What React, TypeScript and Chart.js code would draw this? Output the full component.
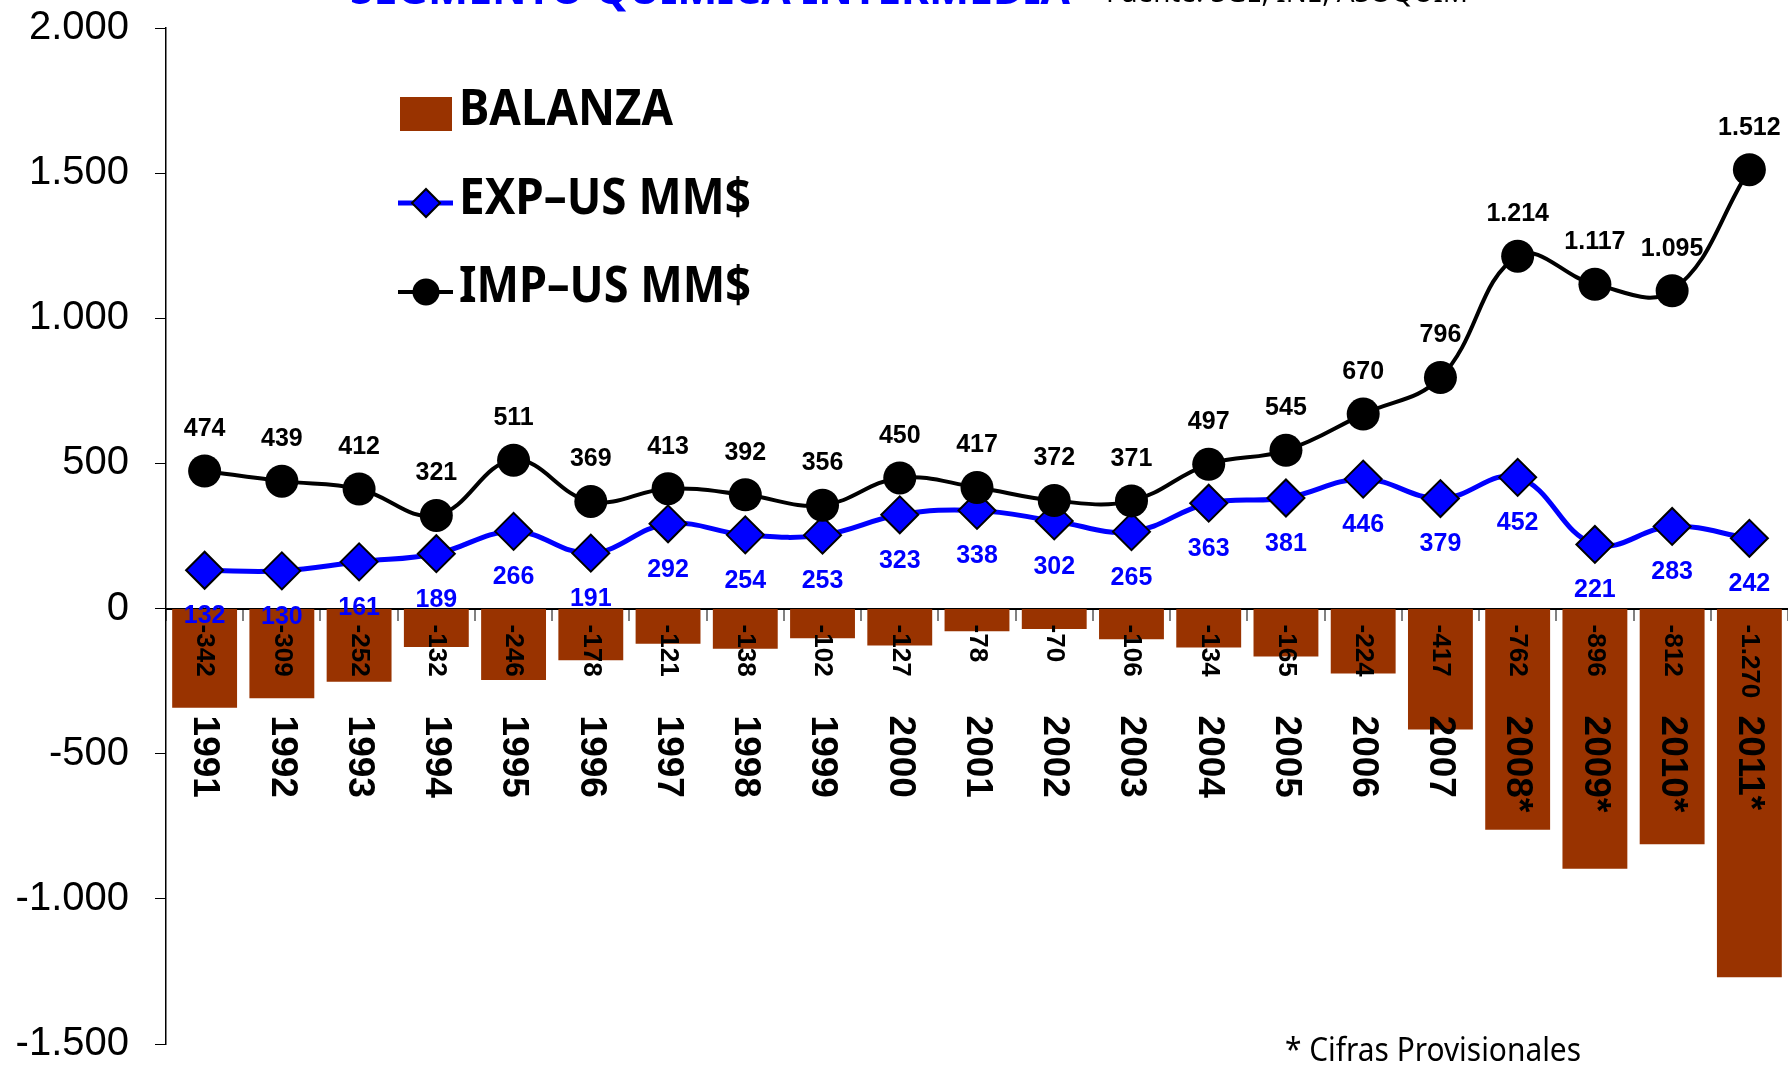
import React, { useEffect, useRef } from 'react';
import { Chart, registerables } from 'chart.js';

Chart.register(...registerables);

// ---------- DATA ----------
const years: string[] = [
  '1991', '1992', '1993', '1994', '1995', '1996', '1997', '1998', '1999', '2000',
  '2001', '2002', '2003', '2004', '2005', '2006', '2007', '2008*', '2009*', '2010*', '2011*',
];
const balanza: number[] = [
  -342, -309, -252, -132, -246, -178, -121, -138, -102, -127,
  -78, -70, -106, -134, -165, -224, -417, -762, -896, -812, -1270,
];
const expUS: number[] = [
  132, 130, 161, 189, 266, 191, 292, 254, 253, 323,
  338, 302, 265, 363, 381, 446, 379, 452, 221, 283, 242,
];
const impUS: number[] = [
  474, 439, 412, 321, 511, 369, 413, 392, 356, 450,
  417, 372, 371, 497, 545, 670, 796, 1214, 1117, 1095, 1512,
];
const seriesNames: string[] = ['BALANZA', 'EXP\u2013US MM$', 'IMP\u2013US MM$'];
const yMin = -1500;
const yMax = 2000;
const yStep = 500;
const titleText = 'SEGMENTO QUIMICA INTERMEDIA';
const sourceText = 'Fuente: SGE, INE, ASOQUIM';
const footnoteText = '* Cifras Provisionales';

// ---------- STYLE ----------
const BAR_COLOR = '#993300';
const EXP_COLOR = '#0000FF';
const IMP_COLOR = '#000000';
const ARIAL = '"Liberation Sans", Arial, Helvetica, sans-serif';
const SANS = '"Noto Sans", "Open Sans", sans-serif';

function fmt(v: number): string {
  const s = Math.abs(Math.round(v)).toString().replace(/\B(?=(\d{3})+(?!\d))/g, '.');
  return (v < 0 ? '-' : '') + s;
}

const labelsPlugin = {
  id: 'customLabels',
  afterDatasetsDraw(chart: any) {
    const ctx: CanvasRenderingContext2D = chart.ctx;
    const xs = chart.scales.x;
    const ys = chart.scales.y;
    const zero = ys.getPixelForValue(0);
    ctx.save();

    // Bar value labels (rotated, reading downward)
    ctx.font = `bold 26px ${ARIAL}`;
    ctx.fillStyle = '#000';
    ctx.textAlign = 'left';
    ctx.textBaseline = 'middle';
    const barMeta = chart.getDatasetMeta(0);
    barMeta.data.forEach((el: any, i: number) => {
      ctx.save();
      ctx.translate(el.x, zero + 16);
      ctx.rotate(Math.PI / 2);
      ctx.fillText(fmt(balanza[i]), 0, 0);
      ctx.restore();
    });

    // Year labels (rotated)
    ctx.font = `bold 37px ${ARIAL}`;
    years.forEach((yr, i) => {
      const px = xs.getPixelForValue(i);
      ctx.save();
      ctx.translate(px, zero + 107);
      ctx.rotate(Math.PI / 2);
      ctx.fillText(yr, 0, 0);
      ctx.restore();
    });

    // EXP labels (below)
    ctx.font = `bold 25px ${ARIAL}`;
    ctx.textAlign = 'center';
    ctx.textBaseline = 'middle';
    ctx.fillStyle = EXP_COLOR;
    const expMeta = chart.getDatasetMeta(1);
    expMeta.data.forEach((el: any, i: number) => {
      ctx.fillText(fmt(expUS[i]), el.x, el.y + 46);
    });

    // IMP labels (above)
    ctx.fillStyle = IMP_COLOR;
    const impMeta = chart.getDatasetMeta(2);
    impMeta.data.forEach((el: any, i: number) => {
      ctx.fillText(fmt(impUS[i]), el.x, el.y - 42);
    });

    ctx.restore();
  },
  afterDraw(chart: any) {
    const ctx: CanvasRenderingContext2D = chart.ctx;
    ctx.save();
    // Legend
    ctx.fillStyle = BAR_COLOR;
    ctx.fillRect(400, 97, 52, 34);

    ctx.lineWidth = 5;
    ctx.strokeStyle = EXP_COLOR;
    ctx.beginPath();
    ctx.moveTo(398, 203);
    ctx.lineTo(453, 203);
    ctx.stroke();
    ctx.beginPath();
    ctx.moveTo(426 - 14, 203);
    ctx.lineTo(426, 203 - 14);
    ctx.lineTo(426 + 14, 203);
    ctx.lineTo(426, 203 + 14);
    ctx.closePath();
    ctx.fillStyle = EXP_COLOR;
    ctx.fill();
    ctx.lineWidth = 2;
    ctx.strokeStyle = '#000';
    ctx.stroke();

    ctx.lineWidth = 4;
    ctx.strokeStyle = IMP_COLOR;
    ctx.beginPath();
    ctx.moveTo(398, 292);
    ctx.lineTo(453, 292);
    ctx.stroke();
    ctx.beginPath();
    ctx.arc(426, 292, 13.5, 0, Math.PI * 2);
    ctx.fillStyle = IMP_COLOR;
    ctx.fill();

    ctx.fillStyle = '#000';
    ctx.font = `bold 50px ${SANS}`;
    ctx.textAlign = 'left';
    ctx.textBaseline = 'alphabetic';
    ctx.fillText(seriesNames[0], 459, 125, 214);
    ctx.fillText(seriesNames[1], 459, 214, 292);
    ctx.fillText(seriesNames[2], 459, 302, 292);

    // Title (cut off at top)
    ctx.fillStyle = EXP_COLOR;
    ctx.font = `bold 46px ${SANS}`;
    ctx.fillText(titleText, 350, 4, 720);
    ctx.fillStyle = '#000';
    ctx.font = `28px ${SANS}`;
    ctx.fillText(sourceText, 1106, 2, 362);

    // Footnote
    ctx.font = `33px ${SANS}`;
    ctx.fillText(footnoteText, 1285, 1061, 296);
    ctx.restore();
  },
};

export default function App() {
  const ref = useRef<HTMLCanvasElement>(null);
  useEffect(() => {
    if (!ref.current) return;
    const chart = new Chart(ref.current, {
      type: 'bar',
      data: {
        labels: years,
        datasets: [
          {
            type: 'bar',
            label: seriesNames[0],
            data: balanza,
            backgroundColor: BAR_COLOR,
            borderWidth: 0,
            barPercentage: 0.84,
            categoryPercentage: 1,
            order: 3,
          } as any,
          {
            type: 'line',
            label: seriesNames[1],
            data: expUS,
            borderColor: EXP_COLOR,
            borderWidth: 5,
            tension: 0.4,
            pointStyle: 'rectRot',
            pointRadius: 18.5,
            pointHoverRadius: 18.5,
            pointBackgroundColor: EXP_COLOR,
            pointBorderColor: '#000',
            pointBorderWidth: 2,
            order: 2,
          } as any,
          {
            type: 'line',
            label: seriesNames[2],
            data: impUS,
            borderColor: IMP_COLOR,
            borderWidth: 4,
            tension: 0.4,
            pointStyle: 'circle',
            pointRadius: 16.5,
            pointHoverRadius: 16.5,
            pointBackgroundColor: IMP_COLOR,
            pointBorderColor: IMP_COLOR,
            pointBorderWidth: 0,
            order: 1,
          } as any,
        ],
      },
      options: {
        responsive: false,
        animation: false,
        devicePixelRatio: 1,
        events: [],
        layout: { autoPadding: false, padding: { top: 28, right: 0, bottom: 21, left: 0 } },
        plugins: {
          legend: { display: false },
          tooltip: { enabled: false },
          title: { display: false },
        },
        scales: {
          x: {
            type: 'category',
            position: { y: 0 } as any,
            offset: true,
            grid: {
              display: true,
              drawOnChartArea: false,
              drawTicks: true,
              tickLength: 11,
              color: '#808080',
              lineWidth: 2,
              offset: true,
            },
            border: { display: true, color: '#000', width: 2 },
            ticks: { display: false },
            afterFit: (s: any) => {
              s.height = 0;
              s.paddingLeft = 0;
              s.paddingRight = 0;
              s.paddingTop = 0;
              s.paddingBottom = 0;
            },
          },
          y: {
            min: yMin,
            max: yMax,
            ticks: {
              stepSize: yStep,
              callback: (v: any) => fmt(Number(v)),
              font: { family: ARIAL, size: 40 },
              color: '#000',
              padding: 26,
            },
            grid: {
              display: true,
              drawOnChartArea: false,
              drawTicks: true,
              tickLength: 11,
              color: '#000',
              lineWidth: 1,
            },
            border: { display: true, color: '#000', width: 1.5 },
            afterFit: (s: any) => {
              s.width = 166;
              s.paddingTop = 0;
              s.paddingBottom = 0;
            },
          },
        },
      } as any,
      plugins: [labelsPlugin],
    });
    return () => chart.destroy();
  }, []);

  return (
    <div style={{ position: 'fixed', left: 0, top: 0, width: 1788, height: 1065, background: '#fff' }}>
      <canvas ref={ref} width={1788} height={1065} style={{ display: 'block', width: 1788, height: 1065 }} />
    </div>
  );
}
